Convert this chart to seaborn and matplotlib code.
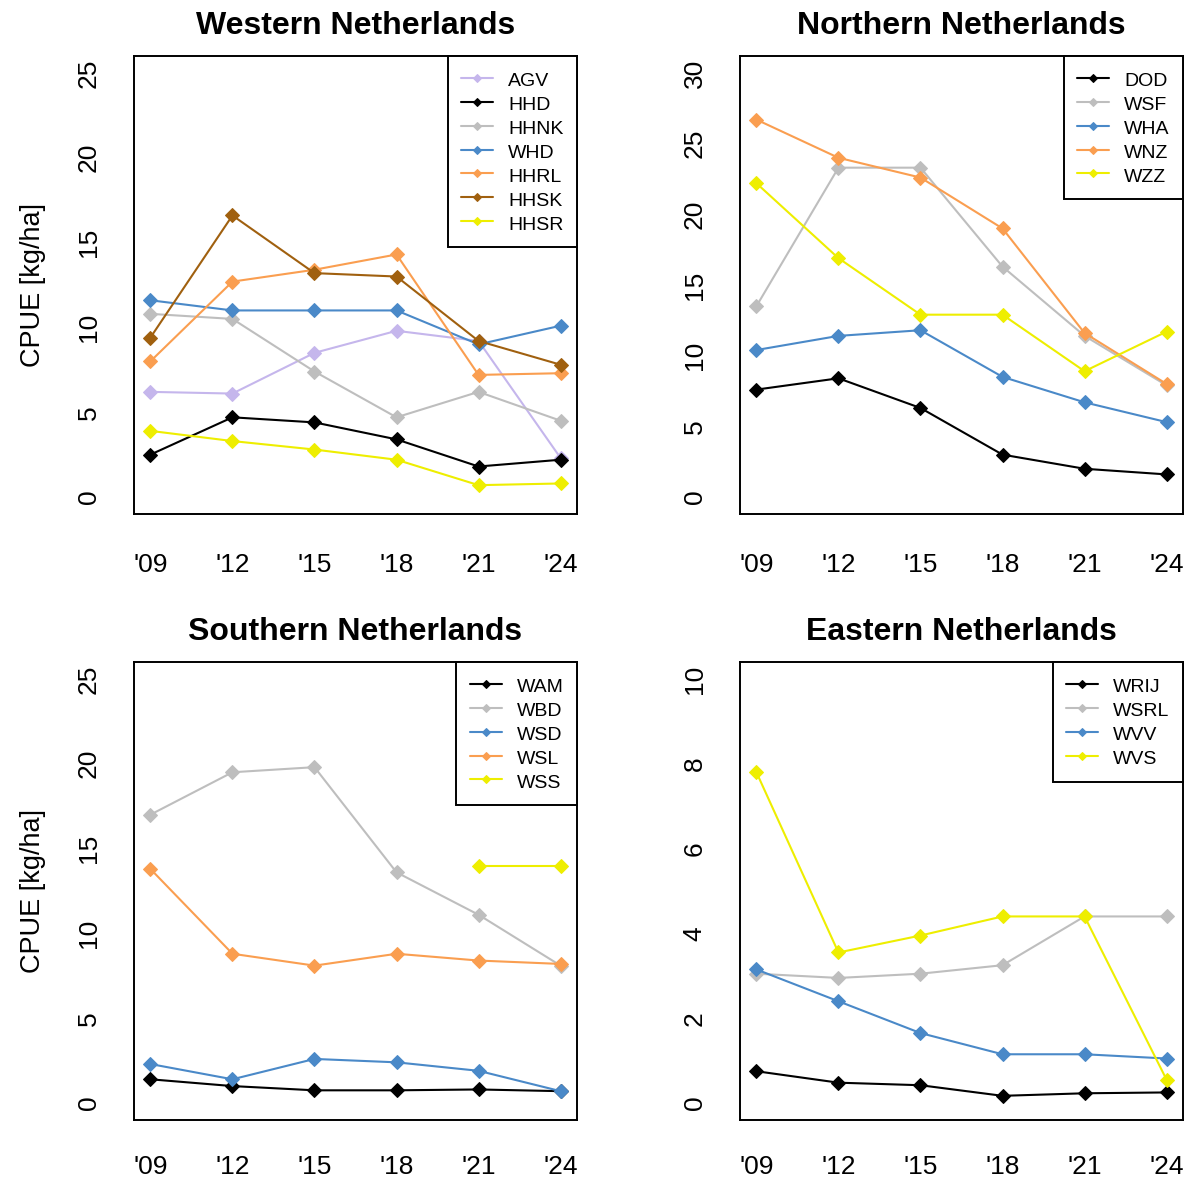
import matplotlib
matplotlib.use("Agg")
import matplotlib.pyplot as plt
import seaborn as sns
import numpy as np

# survey years
years = [2009, 2012, 2015, 2018, 2021, 2024]
year_labels = ["'09", "'12", "'15", "'18", "'21", "'24"]

# Western Netherlands
west_names = ["AGV", "HHD", "HHNK", "WHD", "HHRL", "HHSK", "HHSR"]
agv = [6.2, 6.1, 8.5, 9.8, 9.2, 2.3]
hhd = [2.5, 4.7, 4.4, 3.4, 1.8, 2.2]
hhnk = [10.8, 10.5, 7.4, 4.7, 6.2, 4.5]
whd = [11.6, 11.0, 11.0, 11.0, 9.0, 10.1]
hhrl = [8.0, 12.7, 13.4, 14.3, 7.2, 7.3]
hhsk = [9.4, 16.6, 13.2, 13.0, 9.2, 7.8]
hhsr = [3.9, 3.3, 2.8, 2.2, 0.7, 0.8]

# Northern Netherlands
north_names = ["DOD", "WSF", "WHA", "WNZ", "WZZ"]
dod = [7.6, 8.4, 6.3, 3.0, 2.0, 1.6]
wsf = [13.5, 23.3, 23.3, 16.3, 11.4, 7.9]
wha = [10.4, 11.4, 11.8, 8.5, 6.7, 5.3]
wnz = [26.7, 24.0, 22.6, 19.0, 11.6, 8.0]
wzz = [22.2, 16.9, 12.9, 12.9, 8.9, 11.7]

# Southern Netherlands
south_names = ["WAM", "WBD", "WSD", "WSL", "WSS"]
wam = [1.4, 1.0, 0.75, 0.75, 0.8, 0.7]
wbd = [17.0, 19.5, 19.8, 13.6, 11.1, 8.1]
wsd = [2.3, 1.4, 2.6, 2.4, 1.9, 0.7]
wsl = [13.8, 8.8, 8.1, 8.8, 8.4, 8.2]
wss = [np.nan, np.nan, np.nan, np.nan, 14.0, 14.0]

# Eastern Netherlands
east_names = ["WRIJ", "WSRL", "WVV", "WVS"]
wrij = [0.75, 0.48, 0.42, 0.17, 0.23, 0.25]
wsrl = [3.05, 2.95, 3.05, 3.25, 4.4, 4.4]
wvv = [3.15, 2.4, 1.65, 1.15, 1.15, 1.05]
wvs = [7.8, 3.55, 3.95, 4.4, 4.4, 0.55]

# colours
c_lav = "#C5B6EC"
c_black = "#000000"
c_grey = "#BEBEBE"
c_blue = "#4A89C8"
c_orange = "#FA9E50"
c_brown = "#A0600F"
c_yellow = "#EEEE00"

panels = [
    ("Western Netherlands", west_names, [agv, hhd, hhnk, whd, hhrl, hhsk, hhsr],
     [c_lav, c_black, c_grey, c_blue, c_orange, c_brown, c_yellow], 25, 5),
    ("Northern Netherlands", north_names, [dod, wsf, wha, wnz, wzz],
     [c_black, c_grey, c_blue, c_orange, c_yellow], 30, 5),
    ("Southern Netherlands", south_names, [wam, wbd, wsd, wsl, wss],
     [c_black, c_grey, c_blue, c_orange, c_yellow], 25, 5),
    ("Eastern Netherlands", east_names, [wrij, wsrl, wvv, wvs],
     [c_black, c_grey, c_blue, c_yellow], 10, 2),
]

sns.set_style("white")
plt.rcParams["font.family"] = ["Liberation Sans", "DejaVu Sans"]
plt.rcParams.update({"text.color": "black", "axes.labelcolor": "black",
                     "xtick.color": "black", "ytick.color": "black"})

fig = plt.figure(figsize=(11.89, 11.80), dpi=100)
W, H = 1189, 1180
boxes = [(134, 56), (740, 56), (134, 662), (740, 662)]  # left, top in px
bw, bh = 443, 458

for (title, names, series, colors, ymax, step), (lx, ty) in zip(panels, boxes):
    ax = fig.add_axes([lx / W, 1 - (ty + bh) / H, bw / W, bh / H])
    for name, vals, col in zip(names, series, colors):
        sns.lineplot(x=years, y=vals, ax=ax, color=col, marker="D",
                     markersize=7, markeredgecolor=col, linewidth=1.5,
                     label=name)
    pad_x = 0.04 * (years[-1] - years[0])
    ax.set_xlim(years[0] - pad_x, years[-1] + pad_x)
    ax.set_ylim(-0.04 * ymax, ymax * 1.04)
    ax.set_xticks(years)
    ax.set_xticklabels(year_labels)
    ticks = np.arange(0, ymax + 0.01, step)
    ax.set_yticks(ticks)
    ax.set_yticklabels([str(int(v)) for v in ticks], rotation=90, va="center")
    ax.tick_params(axis="both", direction="out", length=6, width=1.2,
                   colors="black", labelsize=19)
    ax.tick_params(axis="x", pad=22 if ty < 300 else 19)
    ax.tick_params(axis="y", pad=18)
    ax.grid(False)
    for sp in ax.spines.values():
        sp.set_color("black")
        sp.set_linewidth(1.4)
    ax.set_title(title, fontsize=23, fontweight="bold", pad=16, color="black")
    ax.set_xlabel("")
    if lx < 300:
        ax.set_ylabel("CPUE [kg/ha]", fontsize=19.5, labelpad=22)
    else:
        ax.set_ylabel("")
    leg = ax.legend(loc="upper right", bbox_to_anchor=(1, 1), borderaxespad=0,
                    fontsize=14, frameon=True, fancybox=False, framealpha=1,
                    edgecolor="black", markerscale=0.6, handlelength=1.65,
                    handleheight=1.24, handletextpad=0.75, labelspacing=0.16,
                    borderpad=0.7)
    leg.get_frame().set_linewidth(1.4)

fig.savefig("out.png", dpi=100)
